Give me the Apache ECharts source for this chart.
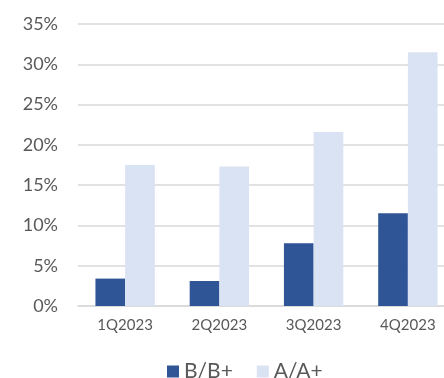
<!DOCTYPE html>
<html>
<head>
<meta charset="utf-8">
<script src="https://cdn.jsdelivr.net/npm/echarts@6/dist/echarts.min.js"></script>
<style>
  html, body { margin: 0; padding: 0; background: #fff; }
  #chart { width: 444px; height: 378px; }
</style>
</head>
<body>
<div id="chart"></div>
<script>
var quarters = ['1Q2023', '2Q2023', '3Q2023', '4Q2023']
var bbValues = [3.4, 3.1, 7.8, 11.5]
var aaValues = [17.5, 17.3, 21.6, 31.5]
var yTicks = [0, 5, 10, 15, 20, 25, 30, 35]

var textColor = '#595959'
var font = 'Lato'

var myChart = echarts.init(document.getElementById('chart'))
myChart.setOption({
  animation: false,
  grid: { left: 78, width: 377, top: 24, height: 282, outerBoundsMode: 'none', containLabel: false },
  legend: {
    top: 356,
    left: 162,
    itemWidth: 12,
    itemHeight: 12,
    itemGap: 24,
    icon: 'rect',
    textStyle: { color: textColor, fontSize: 21, fontFamily: font },
    data: ['B/B+', 'A/A+']
  },
  xAxis: {
    type: 'category',
    data: quarters,
    axisLine: { lineStyle: { color: '#d9d9d9', width: 1.5 } },
    axisTick: { show: false },
    axisLabel: { color: textColor, fontSize: 15, fontFamily: font, margin: 12 }
  },
  yAxis: {
    type: 'value',
    min: yTicks[0],
    max: yTicks[yTicks.length - 1],
    interval: 5,
    axisLine: { show: false },
    axisTick: { show: false },
    splitLine: { lineStyle: { color: '#d9d9d9', width: 1.5 } },
    axisLabel: {
      color: textColor, fontSize: 18, fontFamily: font, margin: 20,
      formatter: function (v) { return v + '%' }
    }
  },
  series: [
    {
      name: 'B/B+',
      type: 'bar',
      data: bbValues,
      barGap: '0%',
      barCategoryGap: '37%',
      itemStyle: { color: '#2F5597' }
    },
    {
      name: 'A/A+',
      type: 'bar',
      data: aaValues,
      barGap: '0%',
      barCategoryGap: '37%',
      itemStyle: { color: '#DAE3F3' }
    }
  ]
})
</script>
</body>
</html>
